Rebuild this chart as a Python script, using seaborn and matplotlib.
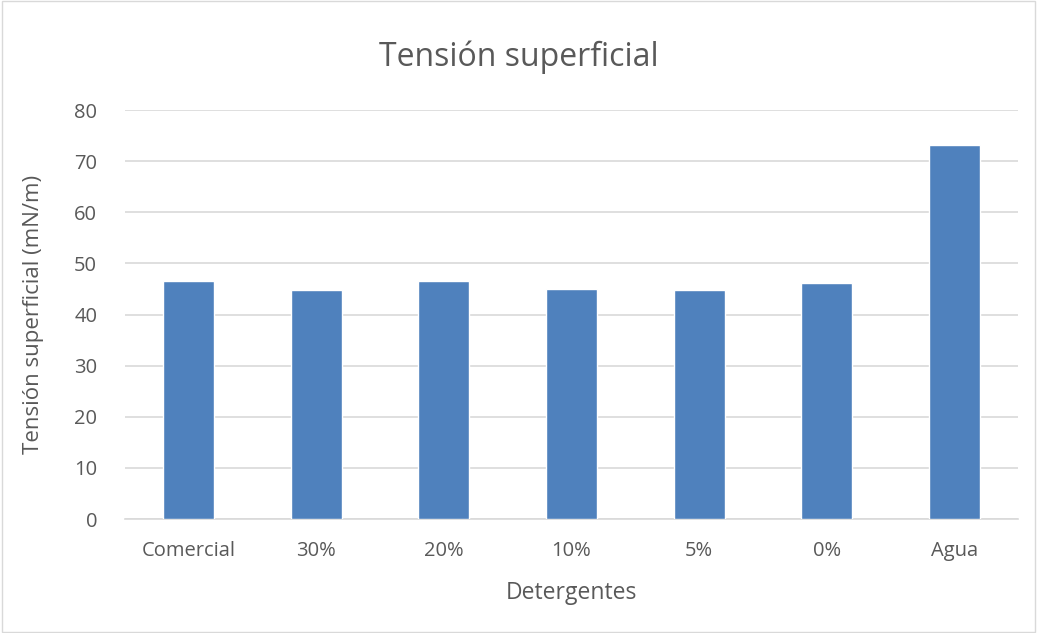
import matplotlib
matplotlib.use('Agg')
import matplotlib.pyplot as plt
import seaborn as sns
import pandas as pd

# Data
categorias = ['Comercial', '30%', '20%', '10%', '5%', '0%', 'Agua']
tension = [46.5, 44.8, 46.5, 45.0, 44.8, 46.1, 73.2]

df = pd.DataFrame({'Detergentes': categorias, 'Tension': tension})

sns.set_style('white')
plt.rcParams['font.family'] = ['Open Sans', 'DejaVu Sans']

fig = plt.figure(figsize=(10.37, 6.33), dpi=100)
ax = fig.add_axes([0.1205, 0.18, 0.8612, 0.646])

sns.barplot(x='Detergentes', y='Tension', data=df, color='#4F81BD',
            width=0.4, saturation=1, ax=ax, zorder=3)

ax.set_ylim(0, 80)
ax.set_yticks(range(0, 81, 10))
ax.grid(axis='y', color='#D9D9D9', linewidth=1.2, zorder=0)
ax.set_axisbelow(True)

for s in ['top', 'right', 'left']:
    ax.spines[s].set_visible(False)
ax.spines['bottom'].set_color('#D9D9D9')
ax.spines['bottom'].set_linewidth(1.2)

ax.tick_params(axis='both', length=0, labelsize=14.5, colors='#595959')
ax.tick_params(axis='y', pad=20)
ax.tick_params(axis='x', pad=16)
ax.set_xlabel('Detergentes', fontsize=16.5, color='#595959', labelpad=14)
ax.set_ylabel('Tensión superficial (mN/m)', fontsize=16, color='#595959', labelpad=22)
fig.text(0.5, 0.91, 'Tensión superficial', ha='center', va='center',
         fontsize=23, color='#595959')

# Outer chart border
fig.patches.append(plt.Rectangle((0.002, 0.002), 0.996, 0.996, transform=fig.transFigure,
                                 fill=False, edgecolor='#D9D9D9', linewidth=1))

fig.savefig('out.png', dpi=100)
